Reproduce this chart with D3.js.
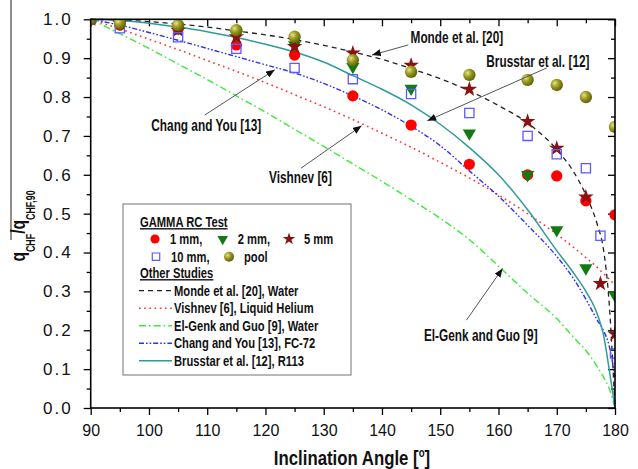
<!DOCTYPE html>
<html>
<head>
<meta charset="utf-8">
<script src="https://cdn.jsdelivr.net/npm/d3@7"></script>
<style>
  body { margin: 0; background: #fff; }
  svg { display: block; font-family: "Liberation Sans", Arial, sans-serif; }
</style>
</head>
<body>
<div id="graph"></div>
<script>
// correlations
const curveAngles = [90, 95, 100, 105, 110, 115, 120, 125, 130, 135, 140, 145, 150, 155, 160, 165, 170, 173, 175, 177, 178, 179, 180];
const monde    = [1.0, 0.998, 0.994, 0.988, 0.98, 0.97, 0.96, 0.948, 0.933, 0.916, 0.897, 0.873, 0.847, 0.816, 0.778, 0.733, 0.665, 0.605, 0.548, 0.47, 0.41, 0.27, 0.0];
const vishnev  = [1.0, 0.975, 0.949, 0.922, 0.894, 0.866, 0.837, 0.806, 0.775, 0.742, 0.707, 0.671, 0.632, 0.592, 0.548, 0.5, 0.447, 0.412, 0.387, 0.361, 0.346, 0.332, 0.316];
const elGenk   = [1.0, 0.963, 0.925, 0.885, 0.845, 0.803, 0.761, 0.717, 0.673, 0.628, 0.583, 0.536, 0.488, 0.433, 0.365, 0.295, 0.23, 0.18, 0.148, 0.105, 0.08, 0.05, 0.0];
const changYou = [1.0, 0.985, 0.966, 0.946, 0.925, 0.904, 0.883, 0.862, 0.835, 0.803, 0.767, 0.725, 0.675, 0.61, 0.545, 0.47, 0.39, 0.33, 0.28, 0.225, 0.2, 0.16, 0.08];
const brusstar = [1.0, 0.997, 0.99, 0.98, 0.968, 0.953, 0.936, 0.916, 0.89, 0.855, 0.82, 0.78, 0.73, 0.67, 0.6, 0.51, 0.405, 0.345, 0.3, 0.24, 0.19, 0.1, 0.0];

// GAMMA RC test data
const testAngles = [90, 95, 105, 115, 125, 135, 145, 155, 165, 170, 175, 177.5, 180];
const mm1  = [1.0, 0.985, 0.975, 0.934, 0.908, 0.803, 0.728, 0.627, 0.6, 0.597, 0.533, null, 0.497];
const mm2  = [1.0, 0.99, 0.978, 0.96, 0.934, 0.878, 0.822, 0.707, 0.6, 0.458, 0.36, null, 0.29];
const mm5  = [1.0, 0.99, 0.972, 0.955, 0.93, 0.913, 0.882, 0.82, 0.737, 0.668, 0.543, 0.32, 0.19];
const mm10 = [1.0, 0.977, 0.954, 0.924, 0.875, 0.846, 0.808, 0.759, 0.7, 0.653, 0.617, 0.443, 0.14];
const pool = [1.0, 0.99, 0.985, 0.972, 0.955, 0.895, 0.865, 0.857, 0.844, 0.831, 0.8, null, 0.723];

const xTicks = [90, 100, 110, 120, 130, 140, 150, 160, 170, 180];
const yTicks = [0, 0.1, 0.2, 0.3, 0.4, 0.5, 0.6, 0.7, 0.8, 0.9, 1.0];

const width = 638;
const height = 469;
const margin = { top: 19.3, right: 23, bottom: 61, left: 90.7 };

const svg = d3.select('#graph')
    .append('svg')
    .attr('width', width)
    .attr('height', height);

const x = d3.scaleLinear().domain([90, 180]).range([margin.left, width - margin.right]);
const y = d3.scaleLinear().domain([0, 1]).range([height - margin.bottom, margin.top]);

const defs = svg.append('defs');
defs.append('clipPath').attr('id', 'plotclip')
    .append('rect')
    .attr('x', x(90)).attr('y', y(1))
    .attr('width', x(180) - x(90)).attr('height', y(0) - y(1));

const grad = defs.append('radialGradient').attr('id', 'ball')
    .attr('cx', '35%').attr('cy', '35%').attr('r', '70%');
grad.append('stop').attr('offset', '0%').attr('stop-color', '#e4e48a');
grad.append('stop').attr('offset', '45%').attr('stop-color', '#9a9a22');
grad.append('stop').attr('offset', '100%').attr('stop-color', '#5c5c05');

defs.append('marker').attr('id', 'arrow')
    .attr('viewBox', '0 0 10 8')
    .attr('refX', 10).attr('refY', 4)
    .attr('markerWidth', 9).attr('markerHeight', 7)
    .attr('markerUnits', 'userSpaceOnUse')
    .attr('orient', 'auto')
    .append('path').attr('d', 'M0,0L10,4L0,8z').attr('fill', '#111');

// axes
const minorX = d3.range(95, 180, 10);
const minorY = d3.range(0.05, 1, 0.1);

function drawAxis(axisFn, scale, major, minor, tr, inward, labels) {
    const g = svg.append('g').attr('transform', tr);
    g.call(axisFn(scale).tickValues(minor).tickSize(inward ? -4 : 4).tickFormat(''));
    const m = svg.append('g').attr('transform', tr);
    const ax = axisFn(scale).tickValues(major).tickSize(inward ? -7 : 7);
    if (labels) ax.tickFormat(labels).tickPadding(10);
    else ax.tickFormat('');
    m.call(ax);
    [g, m].forEach(s => {
        s.select('.domain').remove();
        s.selectAll('line').attr('stroke', '#000').attr('stroke-width', 1.3);
    });
    return m;
}

const bottomAx = drawAxis(d3.axisBottom, x, xTicks, minorX, `translate(0,${y(0)})`, false, d => d);
bottomAx.selectAll('text').style('font-size', '16px').attr('fill', '#111');
const leftAx = drawAxis(d3.axisLeft, y, yTicks, minorY, `translate(${x(90)},0)`, false, d3.format('.1f'));
leftAx.selectAll('text').style('font-size', '17px').style('letter-spacing', '2px').attr('fill', '#111').attr('dx', '-1');
drawAxis(d3.axisTop, x, xTicks, minorX, `translate(0,${y(1)})`, true, null);
drawAxis(d3.axisRight, y, yTicks, minorY, `translate(${x(180)},0)`, true, null);

// correlation curves
const curves = [
    { name: 'Monde et al. [20], Water', values: monde, color: '#222', dash: '5,4', w: 1.3 },
    { name: 'Vishnev [6], Liquid Helium', values: vishnev, color: '#ff3030', dash: '1.6,3.6', w: 1.6 },
    { name: 'El-Genk and Guo [9], Water', values: elGenk, color: '#3ee83e', dash: '7,3,1.6,3', w: 1.4 },
    { name: 'Chang and You [13], FC-72', values: changYou, color: '#2d2dff', dash: '5,2,1.6,2,1.6,2', w: 1.4 },
    { name: 'Brusstar et al. [12], R113', values: brusstar, color: '#2e9a9a', dash: null, w: 1.5 }
];

const line = d3.line()
    .x(d => x(d[0]))
    .y(d => y(d[1]))
    .curve(d3.curveMonotoneX);

svg.append('g').selectAll('path')
    .data(curves)
    .join('path')
    .attr('d', c => line(curveAngles.map((a, i) => [a, c.values[i]])))
    .attr('fill', 'none')
    .attr('stroke', c => c.color)
    .attr('stroke-width', c => c.w)
    .attr('stroke-dasharray', c => c.dash);

// test markers
const series = [
    { name: '1 mm,', values: mm1, shape: d3.symbolCircle, size: 100, fill: '#ff0000', stroke: 'none', rot: 0 },
    { name: '2 mm,', values: mm2, shape: d3.symbolTriangle, size: 75, fill: '#117a11', stroke: 'none', rot: 180 },
    { name: '5 mm', values: mm5, shape: d3.symbolStar, size: 75, fill: '#8b1010', stroke: 'none', rot: 0 },
    { name: '10 mm,', values: mm10, shape: d3.symbolSquare, size: 85, fill: 'none', stroke: '#5a5aff', rot: 0 },
    { name: 'pool', values: pool, shape: d3.symbolCircle, size: 120, fill: 'url(#ball)', stroke: 'none', rot: 0 }
];

const markers = svg.append('g').attr('clip-path', 'url(#plotclip)');
series.forEach(s => {
    const pts = testAngles.map((a, i) => [a, s.values[i]]).filter(p => p[1] !== null);
    markers.append('g').selectAll('path')
        .data(pts)
        .join('path')
        .attr('d', d3.symbol().type(s.shape).size(s.size))
        .attr('transform', d => `translate(${x(d[0])},${y(d[1])}) rotate(${s.rot})`)
        .attr('fill', s.fill)
        .attr('stroke', s.stroke)
        .attr('stroke-width', 1.3);
});

svg.append('rect')
    .attr('x', x(90)).attr('y', y(1))
    .attr('width', x(180) - x(90)).attr('height', y(0) - y(1))
    .attr('fill', 'none').attr('stroke', '#000').attr('stroke-width', 1.6);

// condensed bold label helper
function label(parent, px, py, str, size, anchor, k) {
    return parent.append('text')
        .attr('transform', `translate(${px},${py}) scale(${k || 0.8},1)`)
        .attr('text-anchor', anchor || 'start')
        .style('font-size', size + 'px')
        .style('font-weight', 'bold')
        .attr('fill', '#111')
        .text(str);
}

// annotations
const notes = [
    { text: 'Monde et al. [20]', at: [144.9, 0.939], from: [144.5, 0.934], to: [138.3, 0.908] },
    { text: 'Brusstar et al. [12]', at: [157.9, 0.877], from: [168.3, 0.875], to: [147.8, 0.739] },
    { text: 'Chang and You [13]', at: [100.4, 0.713], from: [109.6, 0.754], to: [121.6, 0.87] },
    { text: 'Vishnev [6]', at: [120.6, 0.579], from: [126.1, 0.617], to: [136.5, 0.726] },
    { text: 'El-Genk and Guo [9]', at: [147.2, 0.172], from: [154.5, 0.226], to: [160.7, 0.359] }
];
notes.forEach(n => {
    svg.append('line')
        .attr('x1', x(n.from[0])).attr('y1', y(n.from[1]))
        .attr('x2', x(n.to[0])).attr('y2', y(n.to[1]))
        .attr('stroke', '#555').attr('stroke-width', 1)
        .attr('marker-end', 'url(#arrow)');
    label(svg, x(n.at[0]), y(n.at[1]), n.text, 16, 'start', 0.74);
});

// legend
const legend = svg.append('g').attr('id', 'legend');
legend.append('rect')
    .attr('x', 123).attr('y', 204)
    .attr('width', 228).attr('height', 171)
    .attr('fill', '#fff').attr('stroke', '#8a8a8a').attr('stroke-width', 1.2);

label(legend, 140, 227, 'GAMMA RC Test', 14).style('text-decoration', 'underline');
label(legend, 140, 278, 'Other Studies', 14).style('text-decoration', 'underline');

const legendSpots = [[155, 239], [222.7, 239], [289, 239], [156, 256.7], [229, 256.7]];
series.forEach((s, i) => {
    const p = legendSpots[i];
    legend.append('path')
        .attr('d', d3.symbol().type(s.shape).size(s.size * 0.65))
        .attr('transform', `translate(${p[0]},${p[1]}) rotate(${s.rot})`)
        .attr('fill', s.fill)
        .attr('stroke', s.stroke)
        .attr('stroke-width', 1.2);
    label(legend, p[0] + 15, p[1] + 5, s.name, 14);
});

curves.forEach((c, i) => {
    const ly = 290.7 + i * 17.5;
    legend.append('line')
        .attr('x1', 139).attr('x2', 172)
        .attr('y1', ly).attr('y2', ly)
        .attr('stroke', c.color)
        .attr('stroke-width', c.w)
        .attr('stroke-dasharray', c.dash);
    label(legend, 174, ly + 5, c.name, 14);
});

// axis titles
const xt = label(svg, 352, 465, 'Inclination Angle [', 21, 'middle');
xt.append('tspan').attr('dy', -8).style('font-size', '12px').text('o');
xt.append('tspan').attr('dy', 8).text(']');

svg.append('line')
    .attr('x1', 11).attr('x2', 11).attr('y1', 0).attr('y2', 240)
    .attr('stroke', '#444').attr('stroke-width', 1.2);

const yt = svg.append('text')
    .attr('transform', 'translate(25,226) rotate(-90) scale(0.74,1)')
    .attr('text-anchor', 'middle')
    .style('font-weight', 'bold')
    .attr('fill', '#111');
yt.append('tspan').style('font-size', '21px').text('q');
yt.append('tspan').attr('dy', 10).style('font-size', '12px').text('CHF');
yt.append('tspan').attr('dy', -10).style('font-size', '21px').text('/');
yt.append('tspan').style('font-size', '21px').text('q');
yt.append('tspan').attr('dy', 10).style('font-size', '12px').text('CHF,90');
</script>
</body>
</html>
